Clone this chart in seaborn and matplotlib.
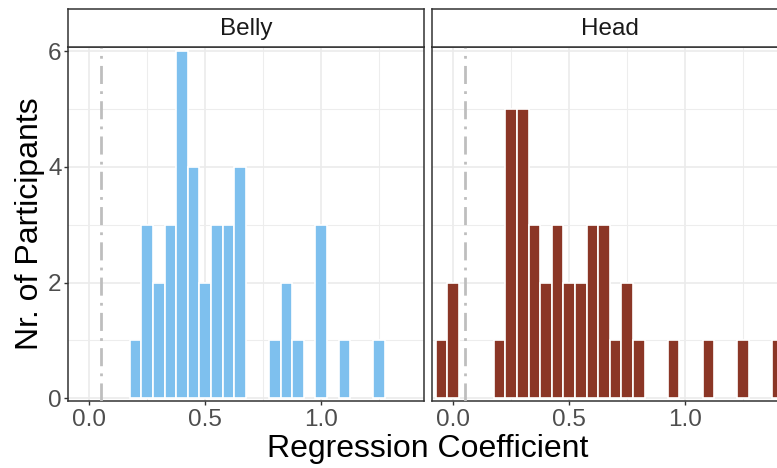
import numpy as np
import pandas as pd
import matplotlib
matplotlib.use('Agg')
import matplotlib.pyplot as plt
import seaborn as sns

# Histogram counts (bin centers, width 0.05)
belly_centers = [0.20, 0.25, 0.30, 0.35, 0.40, 0.45, 0.50, 0.55, 0.60, 0.65,
                 0.80, 0.85, 0.90, 1.00, 1.10, 1.25]
belly_counts = [1, 3, 2, 3, 6, 4, 2, 3, 3, 4,
                1, 2, 1, 3, 1, 1]

head_centers = [-0.05, 0.00, 0.20, 0.25, 0.30, 0.35, 0.40, 0.45, 0.50, 0.55,
                0.60, 0.65, 0.70, 0.75, 0.80, 0.95, 1.10, 1.25, 1.40]
head_counts = [1, 2, 1, 5, 5, 3, 2, 3, 2, 2,
               3, 3, 1, 2, 1, 1, 1, 1, 1]

panels = ['Belly', 'Head']
panel_colors = ['#7EC0EE', '#8B3626']   # skyblue2, tomato4
threshold = 0.05
x_ticks = [0.0, 0.5, 1.0]
x_tick_labels = ['0.0', '0.5', '1.0']
y_ticks = [0, 2, 4, 6]

sns.set_theme(style='white')
plt.rcParams['font.family'] = ['Liberation Sans', 'DejaVu Sans']

W, H = 777, 468
fig = plt.figure(figsize=(W / 100, H / 100), dpi=100)

data = {
    'Belly': pd.DataFrame({'coef': belly_centers, 'n': belly_counts}),
    'Head': pd.DataFrame({'coef': head_centers, 'n': head_counts}),
}

# panel geometry in pixels (left, right) ; top/bottom shared
panel_px = [(68.3, 424.0), (432.3, 788.0)]
top_px, bottom_px, strip_top_px = 47.0, 401.0, 9.3

for i, (name, color) in enumerate(zip(panels, panel_colors)):
    l, r = panel_px[i]
    ax = fig.add_axes([l / W, 1 - bottom_px / H, (r - l) / W, (bottom_px - top_px) / H])
    sns.histplot(data=data[name], x='coef', weights='n', binwidth=0.05,
                 binrange=(-0.075, 1.425), color=color, alpha=1,
                 edgecolor='white', linewidth=1.2, ax=ax)
    for p in list(ax.patches):
        if p.get_height() == 0:
            p.remove()
    ax.axvline(threshold, color='#BEBEBE', lw=2,
               linestyle=(0, (6.5, 2.6, 1, 2.6)), zorder=3)

    ax.set_xlim(-0.0905, 1.4427)
    ax.set_ylim(-0.047, 6.07)
    ax.set_xticks(x_ticks)
    ax.set_xticklabels(x_tick_labels)
    ax.set_xticks([0.25, 0.75, 1.25], minor=True)
    ax.set_yticks(y_ticks)
    ax.set_yticks([1, 3, 5], minor=True)
    ax.grid(which='major', color='#EBEBEB', lw=1.2)
    ax.grid(which='minor', color='#EDEDED', lw=0.8)
    ax.set_axisbelow(True)
    ax.set_xlabel('')
    ax.set_ylabel('')
    for s in ax.spines.values():
        s.set_color('#333333')
        s.set_linewidth(1.1)
    ax.tick_params(axis='x', which='major', bottom=True, length=2.75, width=1.0,
                   color='#333333', labelsize=17.5, labelcolor='#4D4D4D', pad=3)
    ax.tick_params(which='minor', length=0)
    if i == 0:
        ax.set_yticklabels([str(v) for v in y_ticks])
        ax.tick_params(axis='y', which='major', left=True, length=2.75, width=1.0,
                       color='#333333', labelsize=17.5, labelcolor='#4D4D4D', pad=2)
    else:
        ax.tick_params(axis='y', which='major', left=False, labelleft=False)

    # facet strip
    sax = fig.add_axes([l / W, 1 - top_px / H, (r - l) / W, (top_px - strip_top_px) / H])
    sax.set_facecolor('white')
    sax.set_xticks([])
    sax.set_yticks([])
    for s in sax.spines.values():
        s.set_color('#333333')
        s.set_linewidth(1.1)
    sax.text(0.5, 0.47, name, ha='center', va='center', fontsize=17.5,
             color='#1A1A1A', transform=sax.transAxes)

fig.text(427.7 / W, 1 - 449 / H, 'Regression Coefficient', ha='center', va='center',
         fontsize=23, color='black')
fig.text(30 / W, 1 - 223.5 / H, 'Nr. of Participants', ha='center', va='center',
         rotation=90, fontsize=23, color='black')

fig.savefig('out.png', dpi=100)
